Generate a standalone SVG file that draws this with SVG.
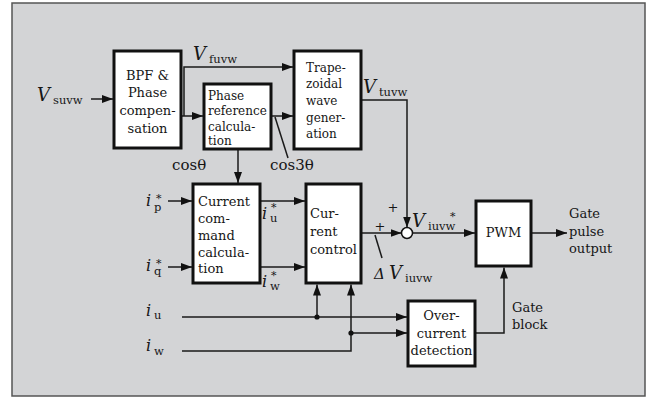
<svg xmlns="http://www.w3.org/2000/svg" width="651" height="398" viewBox="0 0 651 398">
<style>
.box{fill:#fff;stroke:#111;stroke-width:3}
.ln{fill:none;stroke:#1a1a1a;stroke-width:1.5}
.arr{marker-end:url(#ah)}
text{font-family:"DejaVu Serif","Liberation Serif",serif;fill:#161616}
.t{font-size:13px}
.ts{font-size:12px}
.c{text-anchor:middle}
.it{font-style:italic}
.V{font-size:18px;font-style:italic}
.sub{font-size:11.5px;font-style:normal}
.st{font-size:11px;font-style:normal}
.I{font-size:16px;font-style:italic}
</style>
<defs>
<marker id="ah" markerUnits="userSpaceOnUse" markerWidth="11" markerHeight="8" refX="11" refY="4" orient="auto">
<path d="M0,0 L11,4 L0,8 z" fill="#111"/>
</marker>
</defs>
<rect x="0" y="0" width="651" height="398" fill="#fff"/>
<rect x="12" y="3" width="633" height="393" fill="#d3d4d6" stroke="#555" stroke-width="1.5"/>

<g id="connectors">
<path class="ln arr" d="M91,99 H113"/>
<path class="ln arr" d="M182,116 H203"/>
<path class="ln arr" d="M184,116 V67 H293"/>
<path class="ln arr" d="M272,116 H293"/>
<path class="ln" d="M275,117 L288,158"/>
<path class="ln arr" d="M238,149 V183"/>
<path class="ln arr" d="M362,100 H407 V227.5"/>
<path class="ln arr" d="M168,201 H192"/>
<path class="ln arr" d="M168,267 H192"/>
<path class="ln arr" d="M261,201 H305"/>
<path class="ln arr" d="M261,267 H305"/>
<path class="ln arr" d="M362,233 H401.5"/>
<path class="ln" d="M375,235 L382,258"/>
<path class="ln arr" d="M412.5,233 H475"/>
<path class="ln arr" d="M532,233 H567"/>
<path class="ln arr" d="M182,317 H407"/>
<path class="ln arr" d="M317,317 V284.5"/>
<path class="ln arr" d="M182,351 H351 V284.5"/>
<path class="ln arr" d="M351,333 H407"/>
<path class="ln arr" d="M476,333 H504 V267.5"/>
<circle cx="317" cy="317" r="2.6" fill="#111"/>
<circle cx="351" cy="333" r="2.6" fill="#111"/>
<circle cx="407" cy="233" r="5.5" fill="#fff" stroke="#111" stroke-width="1.5"/>
</g>

<g id="bpf">
<rect class="box" x="114" y="51" width="67" height="97"/>
<text class="t c" x="147.5" y="80">BPF &amp;</text>
<text class="t c" x="147.5" y="97">Phase</text>
<text class="t c" x="147.5" y="115">compen-</text>
<text class="t c" x="147.5" y="133">sation</text>
</g>

<g id="phaseref">
<rect class="box" x="204" y="84" width="67" height="65"/>
<text class="ts" x="208" y="100">Phase</text>
<text class="ts" x="208" y="115">reference</text>
<text class="ts" x="208" y="131">calcula-</text>
<text class="ts" x="208" y="145">tion</text>
</g>

<g id="trap">
<rect class="box" x="294" y="51" width="67" height="98"/>
<text class="ts" x="306" y="72">Trape-</text>
<text class="ts" x="306" y="88">zoidal</text>
<text class="ts" x="306" y="105">wave</text>
<text class="ts" x="306" y="122">gener-</text>
<text class="ts" x="306" y="138">ation</text>
</g>

<g id="curcmd">
<rect class="box" x="193" y="184" width="67" height="99"/>
<text class="t" x="198" y="206">Current</text>
<text class="t" x="198" y="223">com-</text>
<text class="t" x="198" y="240">mand</text>
<text class="t" x="198" y="257">calcula-</text>
<text class="t" x="198" y="273">tion</text>
</g>

<g id="curctrl">
<rect class="box" x="306" y="184" width="55" height="99"/>
<text class="t" x="310" y="218">Cur-</text>
<text class="t" x="310" y="236">rent</text>
<text class="t" x="310" y="254">control</text>
</g>

<g id="pwm">
<rect class="box" x="476" y="201" width="55" height="65"/>
<text class="t c" x="503.5" y="237">PWM</text>
</g>

<g id="overcurrent">
<rect class="box" x="408" y="301" width="67" height="65"/>
<text class="t c" x="441.5" y="320">Over-</text>
<text class="t c" x="441.5" y="338">current</text>
<text class="t c" x="441.5" y="355">detection</text>
</g>

<g id="labels">
<text class="V" x="37" y="101">V<tspan class="sub" x="53" y="104">suvw</tspan></text>
<text class="V" x="193" y="60">V<tspan class="sub" x="209" y="63">fuvw</tspan></text>
<text class="V" x="363" y="93">V<tspan class="sub" x="379" y="96">tuvw</tspan></text>
<text class="V" x="412" y="227">V<tspan class="sub" x="428" y="230">iuvw</tspan><tspan class="st" x="450" y="220">*</tspan></text>
<text x="374" y="279" class="it" font-size="15">Δ<tspan class="V" x="389" y="279">V</tspan><tspan class="sub" x="405" y="282">iuvw</tspan></text>
<text class="t c" x="380" y="231">+</text>
<text class="t c" x="393" y="212">+</text>
<text x="172" y="170" font-size="15">cosθ</text>
<text x="270" y="170" font-size="15">cos3θ</text>
<text class="I" x="146" y="206">i<tspan class="sub" x="154" y="211">p</tspan><tspan class="st" x="156" y="202">*</tspan></text>
<text class="I" x="146" y="271">i<tspan class="sub" x="154" y="275">q</tspan><tspan class="st" x="156" y="267">*</tspan></text>
<text class="I" x="262" y="219">i<tspan class="sub" x="270" y="222">u</tspan><tspan class="st" x="271" y="211">*</tspan></text>
<text class="I" x="262" y="287">i<tspan class="sub" x="270" y="290">w</tspan><tspan class="st" x="271" y="279">*</tspan></text>
<text class="I" x="146" y="316">i<tspan class="sub" x="154" y="319">u</tspan></text>
<text class="I" x="146" y="351">i<tspan class="sub" x="154" y="355">w</tspan></text>
<text class="t" x="569" y="218">Gate</text>
<text class="t" x="569" y="236">pulse</text>
<text class="t" x="569" y="253">output</text>
<text class="t" x="512" y="312">Gate</text>
<text class="t" x="512" y="329">block</text>
</g>
</svg>
